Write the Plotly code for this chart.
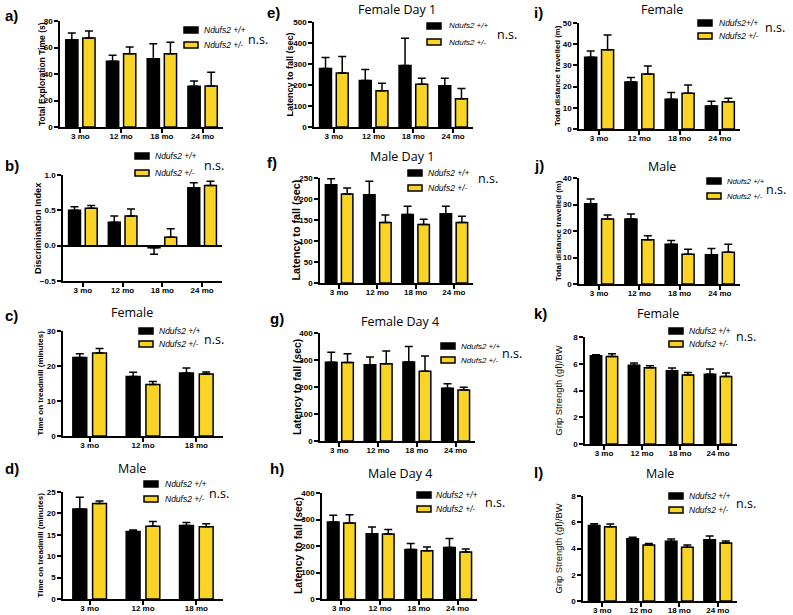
import plotly.graph_objects as go

W, H = 793, 615
YELLOW = "#FAD424"
ARIAL = "Liberation Sans"
THIN = "Open Sans"

ages4 = ["3 mo", "12 mo", "18 mo", "24 mo"]
ages3 = ["3 mo", "12 mo", "18 mo"]

# a) total exploration time (s)
a_wt = [65.9, 49.6, 51.6, 30.7]
a_wt_err = [5.0, 4.5, 11.3, 4.0]
a_het = [67.2, 55.3, 55.3, 30.9]
a_het_err = [5.3, 5.1, 8.6, 10.4]

# b) discrimination index
b_wt = [0.50, 0.33, -0.03, 0.82]
b_wt_err = [0.05, 0.09, 0.09, 0.07]
b_het = [0.53, 0.42, 0.12, 0.85]
b_het_err = [0.04, 0.10, 0.12, 0.06]

# c) treadmill, female (minutes)
c_wt = [22.4, 17.0, 18.0]
c_wt_err = [1.1, 1.2, 1.4]
c_het = [23.7, 14.7, 17.7]
c_het_err = [1.3, 0.9, 0.6]

# d) treadmill, male (minutes)
d_wt = [21.0, 15.8, 17.2]
d_wt_err = [2.8, 0.3, 0.7]
d_het = [22.3, 17.0, 16.9]
d_het_err = [0.6, 1.1, 0.7]

# e) rotarod female day 1 (sec)
e_wt = [279, 221, 293, 197]
e_wt_err = [52, 53, 130, 35]
e_het = [257, 173, 203, 134]
e_het_err = [79, 35, 29, 49]

# f) rotarod male day 1 (sec)
f_wt = [234, 210, 163, 165]
f_wt_err = [14, 32, 20, 18]
f_het = [212, 144, 139, 144]
f_het_err = [14, 18, 13, 15]

# g) rotarod female day 4 (sec)
g_wt = [292, 282, 293, 195]
g_wt_err = [37, 29, 57, 17]
g_het = [291, 286, 258, 189]
g_het_err = [32, 47, 57, 10]

# h) rotarod male day 4 (sec)
h_wt = [291, 246, 187, 194]
h_wt_err = [25, 26, 22, 34]
h_het = [287, 245, 182, 177]
h_het_err = [31, 17, 14, 12]

# i) open field female (m)
i_wt = [33.9, 22.2, 14.0, 10.9]
i_wt_err = [2.9, 2.1, 3.2, 2.2]
i_het = [37.4, 26.0, 16.9, 12.9]
i_het_err = [6.9, 3.7, 3.8, 1.6]

# j) open field male (m)
j_wt = [30.3, 24.5, 15.0, 11.0]
j_wt_err = [1.8, 1.9, 1.4, 2.4]
j_het = [24.5, 16.7, 11.2, 12.0]
j_het_err = [1.5, 1.5, 1.9, 3.0]

# k) grip strength female
k_wt = [6.60, 5.88, 5.48, 5.22]
k_wt_err = [0.08, 0.17, 0.20, 0.38]
k_het = [6.55, 5.70, 5.15, 5.05]
k_het_err = [0.20, 0.15, 0.20, 0.25]

# l) grip strength male
l_wt = [5.76, 4.75, 4.55, 4.67]
l_wt_err = [0.12, 0.10, 0.17, 0.28]
l_het = [5.66, 4.27, 4.09, 4.42]
l_het_err = [0.20, 0.12, 0.18, 0.15]


def px(x):
    return x / W


def py(y):
    return 1 - y / H


fig = go.Figure()


def add_text(x, y, text, size=12.5, bold=False, family=THIN, anchor="center",
             angle=0, italic=False):
    fig.add_annotation(x=px(x), y=py(y), xref="paper", yref="paper", text=text,
                       xanchor=anchor, yanchor="middle", textangle=angle,
                       showarrow=False,
                       font=dict(family=family, size=size, color="black",
                                 weight="bold" if bold else "normal",
                                 style="italic" if italic else "normal"))


def add_panel(n, cats, wt, wt_err, het, het_err, yrange, dtick, box,
              ytitle, tsize, tbold=True, tx=0, w=0.3, g=0.12, fmt=None):
    xa = "x" if n == 1 else f"x{n}"
    ya = "y" if n == 1 else f"y{n}"
    for vals, errs, col, off in [(wt, wt_err, "black", -(w + g / 2)),
                                 (het, het_err, YELLOW, g / 2)]:
        up = [e if v >= 0 else 0 for v, e in zip(vals, errs)]
        down = [e if v < 0 else 0 for v, e in zip(vals, errs)]
        fig.add_trace(go.Bar(
            x=cats, y=vals, xaxis=xa, yaxis=ya, width=w, offset=off,
            marker=dict(color=col, line=dict(color="black", width=1.5)),
            error_y=dict(type="data", symmetric=False, array=up, arrayminus=down,
                         color="black", thickness=1.5, width=4),
            showlegend=False, hoverinfo="x+y"))
    x0, x1, ybot, ytop = box
    axis = dict(showline=True, linecolor="black", linewidth=1.5, ticks="outside",
                ticklen=4, tickwidth=1.5, tickcolor="black", showgrid=False,
                zeroline=False, automargin=False,
                tickfont=dict(family=ARIAL, size=8, color="black", weight="bold"))
    key = "" if n == 1 else str(n)
    fig.layout["xaxis" + key] = dict(axis, domain=[px(x0), px(x1)], anchor=ya,
                                     type="category", range=[-0.5, len(cats) - 0.5],
                                     ticklabelstandoff=-3)
    fig.layout["yaxis" + key] = dict(axis, domain=[py(ybot), py(ytop)], anchor=xa,
                                     range=yrange, dtick=dtick, tick0=yrange[0],
                                     tickformat=fmt,
                                     zeroline=yrange[0] < 0, zerolinecolor="black",
                                     zerolinewidth=1.5)
    add_text(tx, (ybot + ytop) / 2, ytitle, size=tsize, bold=tbold, family=ARIAL,
             angle=-90)


def add_key(bx, y1, y2, tx, nsx, nsy, lab1="Ndufs2 +/+", lab2="Ndufs2 +/-", size=8.5):
    for y, col, lab in [(y1, "black", lab1), (y2, YELLOW, lab2)]:
        fig.add_shape(type="rect", xref="paper", yref="paper",
                      x0=px(bx), x1=px(bx + 14), y0=py(y + 3), y1=py(y - 3),
                      fillcolor=col, line=dict(color="black", width=1.5))
        add_text(tx, y, lab, size=size, family=ARIAL, anchor="left", italic=True)
    add_text(nsx, nsy, "n.s.", anchor="left")


# column 1
add_panel(1, ages4, a_wt, a_wt_err, a_het, a_het_err, [0, 80], 20, (60, 223, 127, 21),
          "Total Exploration Time (s)", 8.5, tx=42)
add_panel(2, ages4, b_wt, b_wt_err, b_het, b_het_err, [-0.5, 1.0], 0.5, (63, 222, 281, 175),
          "Discrimination Index", 9.3, tx=38, fmt=".1f")
add_panel(3, ages3, c_wt, c_wt_err, c_het, c_het_err, [0, 30], 10, (63, 223, 436, 331),
          "Time on treadmill (minutes)", 8, tx=40, w=0.26, g=0.11)
add_panel(4, ages3, d_wt, d_wt_err, d_het, d_het_err, [0, 25], 5, (63, 223, 599, 492),
          "Time on treadmill (minutes)", 8, tx=40, w=0.26, g=0.11)

# column 2
add_panel(5, ages4, e_wt, e_wt_err, e_het, e_het_err, [0, 500], 100, (314, 473, 127, 22),
          "Latency to fall (sec)", 9, tx=290)
add_panel(6, ages4, f_wt, f_wt_err, f_het, f_het_err, [0, 250], 50, (320, 473, 283, 178),
          "Latency to fall (sec)", 10.8, tx=296)
add_panel(7, ages4, g_wt, g_wt_err, g_het, g_het_err, [0, 400], 100, (320, 475, 441, 333),
          "Latency to fall (sec)", 10.3, tx=297)
add_panel(8, ages4, h_wt, h_wt_err, h_het, h_het_err, [0, 400], 100, (322, 477, 599, 493),
          "Latency to fall (sec)", 10.4, tx=298)

# column 3
add_panel(9, ages4, i_wt, i_wt_err, i_het, i_het_err, [0, 50], 10, (579, 740, 129, 23),
          "Total distance travelled (m)", 7.8, tx=558)
add_panel(10, ages4, j_wt, j_wt_err, j_het, j_het_err, [0, 40], 10, (579, 740, 284, 178),
          "Total distance travelled (m)", 7.8, tx=558)
add_panel(11, ages4, k_wt, k_wt_err, k_het, k_het_err, [0, 8], 2, (585, 737, 444, 337),
          "Grip Strength (gf)/BW", 9.4, tbold=False, tx=558)
add_panel(12, ages4, l_wt, l_wt_err, l_het, l_het_err, [0, 8], 2, (583, 737, 601, 496),
          "Grip Strength (gf)/BW", 9.4, tbold=False, tx=558)

# keys and n.s. marks
add_key(184, 30, 45, 202, 246, 39)
add_key(135, 156, 173, 153, 202, 165)
add_key(139, 331, 344, 157, 202, 339)
add_key(144, 484, 499, 163, 207, 493)
add_key(427, 26, 42, 447, 495, 34, size=8)
add_key(408, 173, 188, 426, 476, 179)
add_key(441, 346, 360, 459, 500, 353, size=8)
add_key(417, 495, 509, 434, 483, 502)
add_key(698, 23, 36, 717, 763, 27, lab1="Ndufs2+/+")
add_key(707, 181, 196, 725, 764, 189, size=7.6)
add_key(669, 331, 344, 687, 734, 336)
add_key(669, 496, 510, 687, 734, 503)

# panel titles
add_text(132, 312, "Female")
add_text(132, 468, "Male")
add_text(397, 9.5, "Female Day 1")
add_text(402, 156, "Male Day 1")
add_text(400, 321, "Female Day 4")
add_text(400, 473, "Male Day 4")
add_text(662, 9.5, "Female")
add_text(662, 167, "Male")
add_text(658, 313, "Female")
add_text(660, 473, "Male")

# panel letters
for x, y, t in [(3, 15, "a)"), (3, 165, "b)"), (3, 315, "c)"), (3, 468, "d)"),
                (265, 13, "e)"), (265, 163, "f)"), (268, 318, "g)"), (268, 468, "h)"),
                (532, 12, "i)"), (532, 165, "j)"), (532, 313, "k)"), (532, 472, "l)")]:
    add_text(x, y, t, size=15, bold=True, family=ARIAL, anchor="left")

fig.update_layout(
    width=W, height=H,
    margin=dict(l=0, r=0, t=0, b=0),
    barmode="overlay",
    paper_bgcolor="white", plot_bgcolor="white",
    showlegend=False,
)

# page body has a default 8px margin; drop it so the figure fills the window
fig.write_html("out.html", config={"displayModeBar": False},
               post_script="document.body.style.margin = '0px';")
